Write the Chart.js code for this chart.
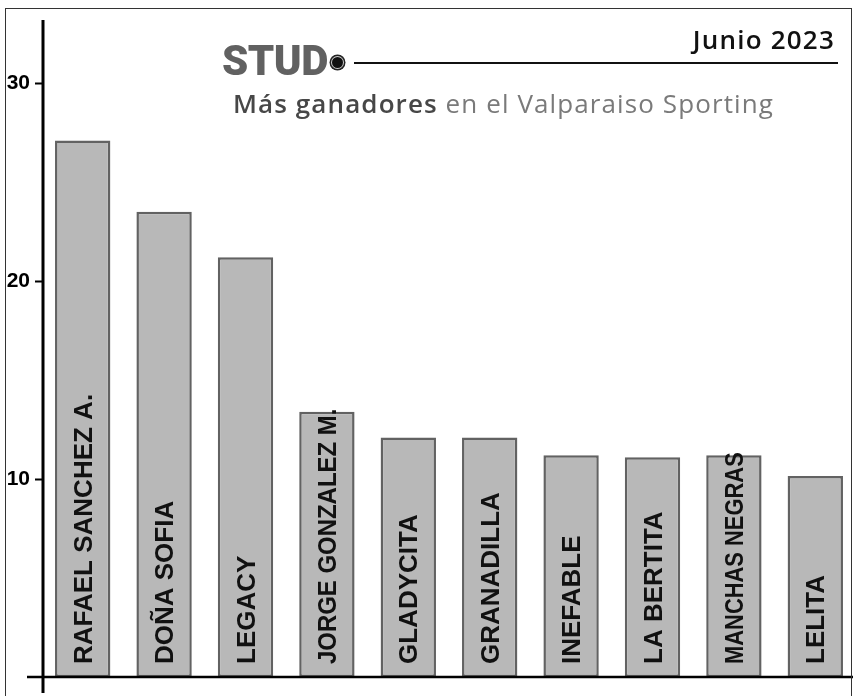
<!DOCTYPE html>
<html lang="es">
<head>
  <meta charset="UTF-8" />
  <title>Stud - Más ganadores</title>
  <script src="https://cdn.jsdelivr.net/npm/chart.js"></script>
  <style>
    html, body {
      margin: 0;
      padding: 0;
      background: #fff;
      width: 853px;
      height: 696px;
      overflow: hidden;
    }

    .lienzo {
      position: absolute;
      left: 0;
      top: 0;
      width: 856px;
      height: 696px;
    }

    .marco {
      position: absolute;
      left: 5px;
      top: 8px;
      width: 845px;
      height: 720px;
      border: 1.5px solid #333;
      pointer-events: none;
    }

    .stud {
      position: absolute;
      left: 222px;
      top: 40px;
      font: 900 42px/1 Roboto, sans-serif;
      color: #616161;
      letter-spacing: -0.5px;
    }

    .punto {
      position: absolute;
      left: 332px;
      top: 57px;
      width: 11px;
      height: 11px;
      border-radius: 50%;
      background: #111;
      box-shadow: 0 0 0 1px #ccc, 0 0 0 2.5px #222;
    }

    .linea {
      position: absolute;
      left: 354px;
      top: 62px;
      width: 484px;
      height: 2px;
      background: #111;
    }

    .fecha {
      position: absolute;
      right: 18px;
      top: 26px;
      font: 600 26px/1 "Open Sans", sans-serif;
      color: #111;
      letter-spacing: 1.2px;
    }

    .subtitulo {
      position: absolute;
      left: 233px;
      top: 90px;
      font: 400 26px/1 "Open Sans", sans-serif;
      color: #7a7a7a;
      letter-spacing: 1.1px;
      white-space: nowrap;
    }

    .subtitulo b {
      font-weight: 600;
      color: #474747;
    }
  </style>
</head>
<body>
  <div class="lienzo"><canvas id="studChart"></canvas></div>

  <div class="stud">STUD</div>
  <div class="punto"></div>
  <div class="linea"></div>
  <div class="fecha">Junio 2023</div>
  <div class="subtitulo"><b>Más ganadores</b> en el Valparaiso Sporting</div>
  <div class="marco"></div>

  <script>
    const categorias = [
      'RAFAEL SANCHEZ A.', 'DOÑA SOFIA', 'LEGACY', 'JORGE GONZALEZ M.',
      'GLADYCITA', 'GRANADILLA', 'INEFABLE', 'LA BERTITA',
      'MANCHAS NEGRAS', 'LELITA'
    ];
    const ganadores = [27.1, 23.5, 21.2, 13.4, 12.1, 12.1, 11.2, 11.1, 11.2, 10.15];
    const ticksY = [10, 20, 30];

    // nombres verticales dentro de cada barra
    const etiquetasBarras = {
      id: 'etiquetasBarras',
      afterDatasetsDraw(chart) {
        const ctx = chart.ctx;
        const meta = chart.getDatasetMeta(0);
        meta.data.forEach((barra, i) => {
          const alto = barra.base - barra.y;
          ctx.save();
          ctx.translate(barra.x + 9, barra.base - 13);
          ctx.rotate(-Math.PI / 2);
          ctx.font = 'bold 26px "Liberation Sans", Arial, sans-serif';
          ctx.fillStyle = '#111';
          ctx.textAlign = 'left';
          ctx.textBaseline = 'alphabetic';
          ctx.fillText(categorias[i], 0, 0, alto - 10);
          ctx.restore();
        });
      }
    };

    // ejes cruzados que sobresalen del area del grafico
    const ejes = {
      id: 'ejes',
      afterDraw(chart) {
        const ctx = chart.ctx;
        const { left, bottom } = chart.chartArea;
        ctx.save();
        ctx.strokeStyle = '#000';
        ctx.lineWidth = 3;
        ctx.beginPath();
        ctx.moveTo(left + 1, 20);
        ctx.lineTo(left + 1, 693);
        ctx.stroke();
        ctx.lineWidth = 2.5;
        ctx.beginPath();
        ctx.moveTo(27, bottom);
        ctx.lineTo(chart.width, bottom);
        ctx.stroke();
        ctx.restore();
      }
    };

    const ctx = document.getElementById('studChart').getContext('2d');
    new Chart(ctx, {
      type: 'bar',
      data: {
        labels: categorias,
        datasets: [{
          label: 'Ganadores',
          data: ganadores,
          backgroundColor: '#b8b8b8',
          borderColor: '#626262',
          borderWidth: 2.5,
          borderSkipped: false,
          barPercentage: 0.68,
          categoryPercentage: 1
        }]
      },
      options: {
        responsive: true,
        maintainAspectRatio: false,
        animation: false,
        layout: {
          padding: { top: 83, bottom: 19, left: 0, right: 0 }
        },
        plugins: {
          legend: { display: false },
          title: { display: false },
          tooltip: { enabled: false }
        },
        scales: {
          x: {
            display: false
          },
          y: {
            min: 0,
            max: 30,
            afterFit(scale) {
              scale.width = 42;
            },
            afterBuildTicks(scale) {
              scale.ticks = ticksY.map(v => ({ value: v }));
            },
            border: { display: false },
            grid: {
              drawOnChartArea: false,
              drawTicks: true,
              tickLength: 7,
              tickColor: '#000',
              tickWidth: 2
            },
            ticks: {
              autoSkip: false,
              padding: 5,
              color: '#000',
              font: { family: '"Liberation Sans", Arial, sans-serif', size: 21, weight: 'bold' }
            }
          }
        }
      },
      plugins: [etiquetasBarras, ejes]
    });
  </script>
</body>
</html>
